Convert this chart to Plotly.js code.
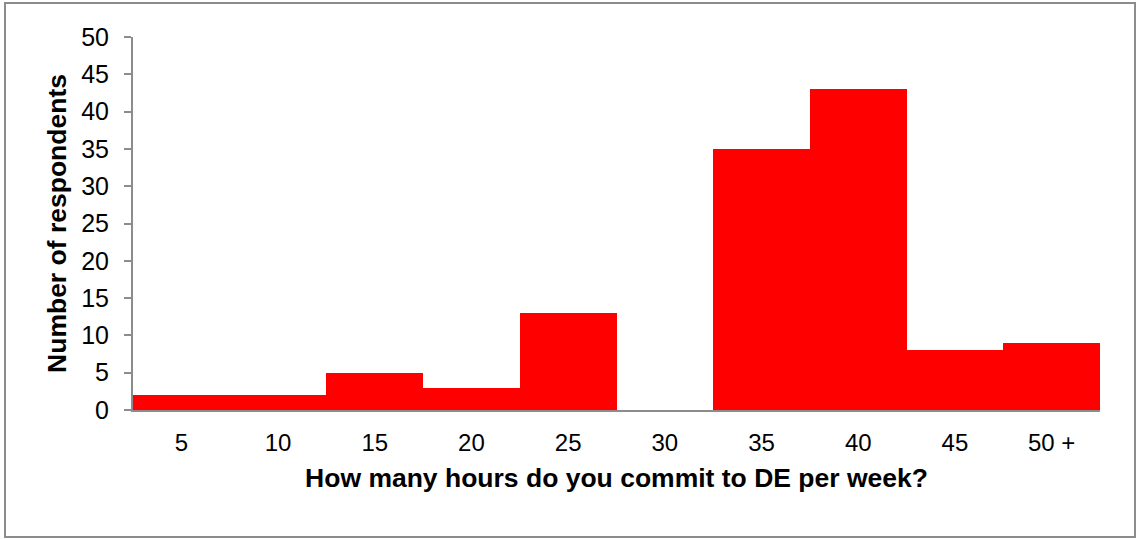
<!DOCTYPE html>
<html>
<head>
<meta charset="utf-8">
<script src="https://cdn.plot.ly/plotly-3.0.1.min.js"></script>
<style>
html,body{margin:0;padding:0;background:#fff;}
#chart{position:absolute;left:0;top:0;width:1137px;height:539px;}
#frame{position:absolute;left:4px;top:2px;width:1128px;height:532px;border:2px solid #8c8c8c;pointer-events:none;}
</style>
</head>
<body>
<div id="chart"></div>
<div id="frame"></div>
<script>
const categories = ["5","10","15","20","25","30","35","40","45","50 +"];
const respondents = [2, 2, 5, 3, 13, 0, 35, 43, 8, 9];
const xTitle = "How many hours do you commit to DE per week?";
const yTitle = "Number of respondents";

const trace = {
  type: "bar",
  x: categories,
  y: respondents,
  marker: {color: "#ff0000", line: {width: 0}},
  hoverinfo: "x+y"
};

const layout = {
  width: 1137,
  height: 539,
  margin: {l: 133, r: 37, t: 37, b: 129},
  paper_bgcolor: "#ffffff",
  plot_bgcolor: "#ffffff",
  bargap: 0,
  showlegend: false,
  font: {family: "Liberation Sans, Arial, sans-serif", color: "#000000", size: 25},
  xaxis: {
    type: "category",
    showgrid: false,
    showline: true,
    linecolor: "#8c8c8c",
    linewidth: 2,
    ticks: "",
    tickfont: {size: 24},
    ticklabelstandoff: 10,
    zeroline: false,
    title: {text: "<b>" + xTitle + "</b>", font: {size: 26.5}, standoff: 14}
  },
  yaxis: {
    range: [0, 50],
    dtick: 5,
    showgrid: false,
    showline: true,
    linecolor: "#8c8c8c",
    linewidth: 2,
    ticks: "outside",
    ticklen: 7,
    tickwidth: 2,
    tickcolor: "#8c8c8c",
    tickfont: {size: 25},
    ticklabelstandoff: 10,
    zeroline: false,
    title: {text: "<b>" + yTitle + "</b>", font: {size: 26.5}, standoff: 7}
  }
};

Plotly.newPlot("chart", [trace], layout, {displayModeBar: false, staticPlot: true});
</script>
</body>
</html>
